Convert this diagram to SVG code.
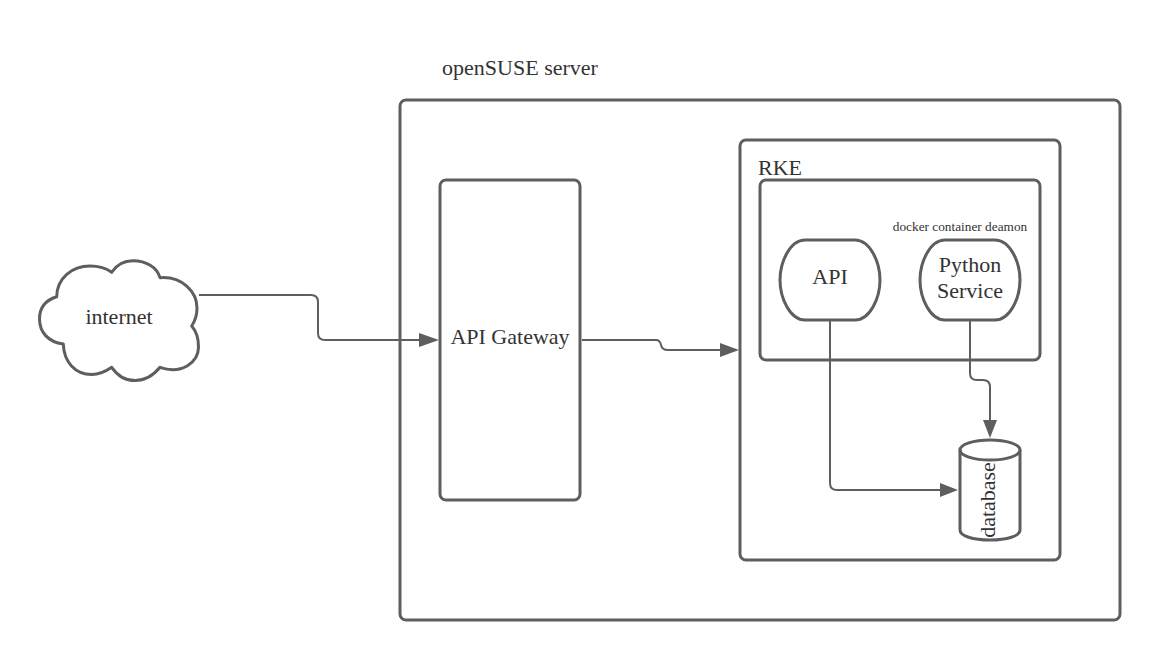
<svg xmlns="http://www.w3.org/2000/svg" width="1160" height="660" viewBox="0 0 1160 660">
<style>
.s{fill:none;stroke:#5e5e5e;stroke-width:3;stroke-linejoin:round}
.c{fill:none;stroke:#5e5e5e;stroke-width:2}
.t{font-family:"Liberation Serif",serif;fill:#333;font-size:22px;text-anchor:middle}
.h{fill:#5e5e5e}
</style>
<rect width="1160" height="660" fill="#fff"/>
<g id="server"><rect class="s" x="400" y="100" width="720" height="520" rx="6"/><text class="t" x="520" y="75">openSUSE server</text></g>
<g id="rke"><rect class="s" x="740" y="140" width="320" height="420" rx="6"/><text class="t" x="780" y="175">RKE</text></g>
<g id="docker"><rect class="s" x="760" y="180" width="280" height="180" rx="6"/><text class="t" style="font-size:13.3px" x="960" y="231">docker container deamon</text></g>
<g id="gateway"><rect class="s" x="440" y="180" width="140" height="320" rx="6"/><text class="t" x="510" y="344">API Gateway</text></g>
<g id="internet"><path class="s" d="M56.700 296.700C57 278 72 266 90 266C98 266 106 268 111.700 272.300C117 264 125 260.700 133 260.700C146 260.700 157 267 160 277.700C182 276 197 292 197 308C197 315 195 321 191.700 326C197 332 198.500 340 198.500 347C198.500 362 182 375 160 367.300C153 376 144 380.500 135 380.500C125 380.500 117 375 111.700 367.300C105 372 98 374.500 91.700 374.500C75 374.500 64 362 63.300 344C48 342 39.500 332 39.500 319C39.500 307 46 300 56.700 296.700Z"/><text class="t" x="119" y="324">internet</text></g>
<g id="api"><path class="s" d="M805 240H855C870 240 880 262 880 280C880 298 870 320 855 320H805C790 320 780 298 780 280C780 262 790 240 805 240Z"/><text class="t" x="830" y="284">API</text></g>
<g id="python"><path class="s" d="M945 240H995C1010 240 1020 262 1020 280C1020 298 1010 320 995 320H945C930 320 920 298 920 280C920 262 930 240 945 240Z"/><text class="t" x="970" y="272">Python</text><text class="t" x="970" y="298">Service</text></g>
<g id="database"><path class="s" d="M960 450V530C960 536 973 540 990 540C1007 540 1020 536 1020 530V450"/><ellipse class="s" cx="990" cy="450" rx="30" ry="10"/><text class="t" transform="translate(995 500) rotate(-90)" x="0" y="0">database</text></g>
<g id="connectors">
<path class="c" d="M199 295H311Q318 295 318 302V333Q318 340 325 340H421"/><path class="h" d="M419 333L439 340L419 347Z"/>
<path class="c" d="M582 340H656Q660 340 661 345Q662 350 668 350H721"/><path class="h" d="M720 343L739 350L720 357Z"/>
<path class="c" d="M830 321V483Q830 490 837 490H941"/><path class="h" d="M940 483L958 490L940 497Z"/>
<path class="c" d="M970 321V373Q970 380 977 380H983Q990 380 990 387V421"/><path class="h" d="M983 420L990 438L997 420Z"/>
</g>
</svg>
